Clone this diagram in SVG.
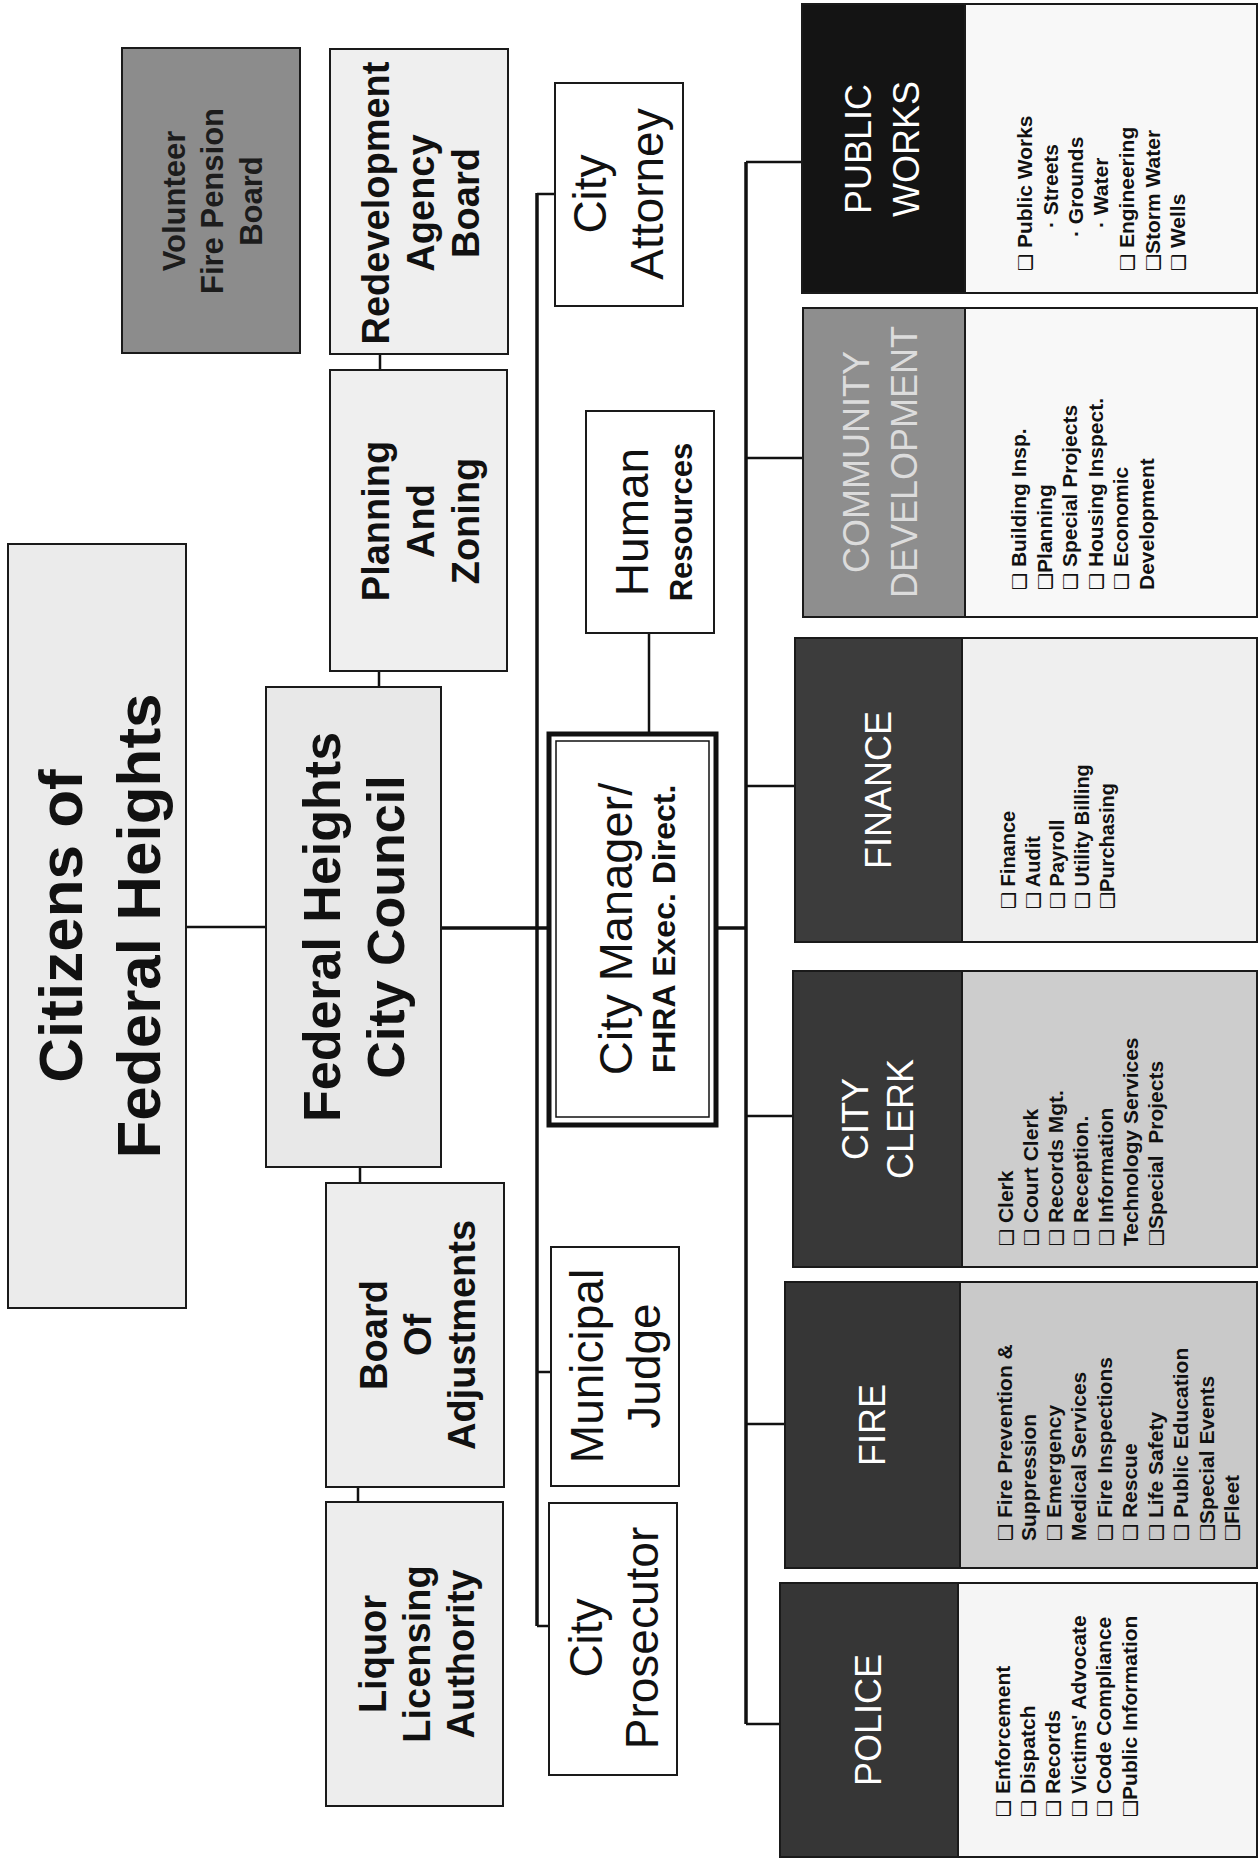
<svg xmlns="http://www.w3.org/2000/svg" width="1260" height="1860" viewBox="0 0 1260 1860">
<style>
text{font-family:"Liberation Sans",Arial,"DejaVu Sans",sans-serif;fill:#111}
.b{font-weight:bold}
.box{stroke:#1a1a1a;stroke-width:2}
.ln{stroke:#111;fill:none}
.bus{stroke-width:3.5}
.br{stroke-width:2.5}
.hd{fill:#fff;font-size:36px}
.li{font-size:21px;font-weight:bold}
.ck{font-family:"DejaVu Sans",sans-serif;font-size:19px}
</style>
<rect width="1260" height="1860" fill="#fff"/>

<g id="connectors">
<path class="ln br" d="M186 927H266"/>
<path class="ln br" d="M380 354V370M379 671V687M360 1167V1183M358 1487V1502"/>
<path class="ln bus" d="M441 928H547"/>
<path class="ln bus" d="M537 193V1626"/>
<path class="ln br" d="M537 194H555M537 1372H551M537 1626H549"/>
<path class="ln br" d="M649 633V732"/>
<path class="ln bus" d="M718 928H746"/>
<path class="ln bus" d="M746 162V1724"/>
<path class="ln br" d="M746 162H802M746 458H803M746 786H795M746 1116H793M746 1424H785M746 1724H780"/>
</g>

<g id="volunteer">
<rect class="box" x="122" y="48" width="178" height="305" fill="#8c8c8c"/>
<text class="b" font-size="31" text-anchor="middle" transform="translate(0,201) rotate(-90)" style="fill:#1c1c1c"><tspan x="0" y="185">Volunteer</tspan><tspan x="0" y="223">Fire Pension</tspan><tspan x="0" y="262">Board</tspan></text>
</g>

<g id="redevelopment">
<rect class="box" x="330" y="49" width="178" height="305" fill="#efefef"/>
<text class="b" font-size="38" text-anchor="middle" transform="translate(0,203) rotate(-90)"><tspan x="0" y="389">Redevelopment</tspan><tspan x="0" y="434">Agency</tspan><tspan x="0" y="479">Board</tspan></text>
</g>

<g id="planning">
<rect class="box" x="330" y="370" width="177" height="301" fill="#efefef"/>
<text class="b" font-size="38" text-anchor="middle" transform="translate(0,521) rotate(-90)"><tspan x="0" y="389">Planning</tspan><tspan x="0" y="434">And</tspan><tspan x="0" y="479">Zoning</tspan></text>
</g>

<g id="citizens">
<rect class="box" x="8" y="544" width="178" height="764" fill="#ebebeb"/>
<text class="b" font-size="62" text-anchor="middle" transform="translate(0,926) rotate(-90)"><tspan x="0" y="82">Citizens of</tspan><tspan x="0" y="160">Federal Heights</tspan></text>
</g>

<g id="council">
<rect class="box" x="266" y="687" width="175" height="480" fill="#e8e8e8"/>
<text class="b" font-size="52" text-anchor="middle" transform="translate(0,927) rotate(-90)"><tspan x="0" y="340">Federal Heights</tspan><tspan x="0" y="404">City Council</tspan></text>
</g>

<g id="board-adjustments">
<rect class="box" x="326" y="1183" width="178" height="304" fill="#ededed"/>
<text class="b" font-size="38" text-anchor="middle" transform="translate(0,1335) rotate(-90)"><tspan x="0" y="387">Board</tspan><tspan x="0" y="431">Of</tspan><tspan x="0" y="475">Adjustments</tspan></text>
</g>

<g id="liquor">
<rect class="box" x="326" y="1502" width="177" height="304" fill="#ededed"/>
<text class="b" font-size="38" text-anchor="middle" transform="translate(0,1654) rotate(-90)"><tspan x="0" y="386">Liquor</tspan><tspan x="0" y="430">Licensing</tspan><tspan x="0" y="474">Authority</tspan></text>
</g>

<g id="city-attorney">
<rect class="box" x="555" y="83" width="128" height="223" fill="#fff"/>
<text font-size="46" text-anchor="middle" transform="translate(0,194) rotate(-90)"><tspan x="0" y="606">City</tspan><tspan x="0" y="663">Attorney</tspan></text>
</g>

<g id="human-resources">
<rect class="box" x="586" y="411" width="128" height="222" fill="#fff"/>
<text text-anchor="middle" transform="translate(0,522) rotate(-90)"><tspan x="0" y="648" font-size="46">Human</tspan><tspan x="0" y="692" font-size="31" font-weight="bold">Resources</tspan></text>
</g>

<g id="city-manager">
<rect x="549" y="734" width="167" height="391" fill="#fff" stroke="#111" stroke-width="5"/>
<rect x="556" y="741" width="153" height="376" fill="none" stroke="#111" stroke-width="1.5"/>
<text text-anchor="middle" transform="translate(0,929) rotate(-90)"><tspan x="0" y="632" font-size="47">City Manager/</tspan><tspan x="0" y="675" font-size="32" font-weight="bold">FHRA Exec. Direct.</tspan></text>
</g>

<g id="municipal-judge">
<rect class="box" x="551" y="1247" width="128" height="239" fill="#fff"/>
<text font-size="46" text-anchor="middle" transform="translate(0,1366) rotate(-90)"><tspan x="0" y="603">Municipal</tspan><tspan x="0" y="660">Judge</tspan></text>
</g>

<g id="city-prosecutor">
<rect class="box" x="549" y="1503" width="128" height="272" fill="#fff"/>
<text font-size="46" text-anchor="middle" transform="translate(0,1638) rotate(-90)"><tspan x="0" y="602">City</tspan><tspan x="0" y="658">Prosecutor</tspan></text>
</g>

<g id="public-works">
<rect class="box" x="965" y="4" width="292" height="289" fill="#f8f8f8"/>
<rect class="box" x="802" y="4" width="163" height="289" fill="#141414"/>
<text class="hd" text-anchor="middle" transform="translate(0,149) rotate(-90)"><tspan x="0" y="871" style="fill:#fff">PUBLIC</tspan><tspan x="0" y="919" style="fill:#fff">WORKS</tspan></text>
<text class="li" transform="translate(0,271) rotate(-90)"><tspan x="0" y="1032"><tspan class="ck">❑</tspan> Public Works</tspan><tspan x="43" y="1058">· Streets</tspan><tspan x="34" y="1083">· Grounds</tspan><tspan x="43" y="1108">· Water</tspan><tspan x="0" y="1134"><tspan class="ck">❑</tspan> Engineering</tspan><tspan x="0" y="1160"><tspan class="ck">❑</tspan>Storm Water</tspan><tspan x="0" y="1185"><tspan class="ck">❑</tspan> Wells</tspan></text>
</g>

<g id="community-development">
<rect class="box" x="965" y="308" width="292" height="309" fill="#f8f8f8"/>
<rect class="box" x="803" y="308" width="162" height="309" fill="#8e8e8e"/>
<text class="hd" text-anchor="middle" transform="translate(0,462) rotate(-90)"><tspan x="0" y="869" style="fill:#dcdcdc">COMMUNITY</tspan><tspan x="0" y="917" style="fill:#dcdcdc">DEVELOPMENT</tspan></text>
<text class="li" transform="translate(0,590) rotate(-90)"><tspan x="0" y="1026"><tspan class="ck">❑</tspan> Building Insp.</tspan><tspan x="0" y="1052"><tspan class="ck">❑</tspan>Planning</tspan><tspan x="0" y="1077"><tspan class="ck">❑</tspan> Special Projects</tspan><tspan x="0" y="1103"><tspan class="ck">❑</tspan> Housing Inspect.</tspan><tspan x="0" y="1128"><tspan class="ck">❑</tspan> Economic</tspan><tspan x="0" y="1154">Development</tspan></text>
</g>

<g id="finance">
<rect class="box" x="962" y="638" width="295" height="304" fill="#efefef"/>
<rect class="box" x="795" y="638" width="167" height="304" fill="#3c3c3c"/>
<text class="hd" text-anchor="middle" transform="translate(0,790) rotate(-90)"><tspan x="0" y="891" style="fill:#fff">FINANCE</tspan></text>
<text class="li" transform="translate(0,909) rotate(-90)" style="font-size:20px"><tspan x="0" y="1015"><tspan class="ck">❑</tspan> Finance</tspan><tspan x="0" y="1040"><tspan class="ck">❑</tspan> Audit</tspan><tspan x="0" y="1064"><tspan class="ck">❑</tspan> Payroll</tspan><tspan x="0" y="1089"><tspan class="ck">❑</tspan> Utility Billing</tspan><tspan x="0" y="1114"><tspan class="ck">❑</tspan>Purchasing</tspan></text>
</g>

<g id="city-clerk">
<rect class="box" x="962" y="971" width="295" height="296" fill="#cdcdcd"/>
<rect class="box" x="793" y="971" width="169" height="296" fill="#383838"/>
<text class="hd" text-anchor="middle" transform="translate(0,1119) rotate(-90)"><tspan x="0" y="868" style="fill:#fff">CITY</tspan><tspan x="0" y="913" style="fill:#fff">CLERK</tspan></text>
<text class="li" transform="translate(0,1246) rotate(-90)"><tspan x="0" y="1013"><tspan class="ck">❑</tspan> Clerk</tspan><tspan x="0" y="1038"><tspan class="ck">❑</tspan> Court Clerk</tspan><tspan x="0" y="1063"><tspan class="ck">❑</tspan> Records Mgt.</tspan><tspan x="0" y="1088"><tspan class="ck">❑</tspan> Reception.</tspan><tspan x="0" y="1113"><tspan class="ck">❑</tspan> Information</tspan><tspan x="0" y="1138">Technology Services</tspan><tspan x="0" y="1163" style="white-space:pre"><tspan class="ck">❑</tspan>Special  Projects</tspan></text>
</g>

<g id="fire">
<rect class="box" x="960" y="1282" width="297" height="286" fill="#c9c9c9"/>
<rect class="box" x="785" y="1282" width="175" height="286" fill="#363636"/>
<text class="hd" text-anchor="middle" transform="translate(0,1425) rotate(-90)"><tspan x="0" y="885" style="fill:#fff">FIRE</tspan></text>
<text class="li" transform="translate(0,1541) rotate(-90)"><tspan x="0" y="1012"><tspan class="ck">❑</tspan> Fire Prevention &amp;</tspan><tspan x="0" y="1036">Suppression</tspan><tspan x="0" y="1061"><tspan class="ck">❑</tspan> Emergency</tspan><tspan x="0" y="1086">Medical Services</tspan><tspan x="0" y="1112"><tspan class="ck">❑</tspan> Fire Inspections</tspan><tspan x="0" y="1137"><tspan class="ck">❑</tspan> Rescue</tspan><tspan x="0" y="1163"><tspan class="ck">❑</tspan> Life Safety</tspan><tspan x="0" y="1188"><tspan class="ck">❑</tspan> Public Education</tspan><tspan x="0" y="1214"><tspan class="ck">❑</tspan>Special Events</tspan><tspan x="0" y="1239"><tspan class="ck">❑</tspan>Fleet</tspan></text>
</g>

<g id="police">
<rect class="box" x="958" y="1583" width="299" height="274" fill="#f5f5f5"/>
<rect class="box" x="780" y="1583" width="178" height="274" fill="#363636"/>
<text class="hd" text-anchor="middle" transform="translate(0,1720) rotate(-90)"><tspan x="0" y="881" style="fill:#fff">POLICE</tspan></text>
<text class="li" transform="translate(0,1817) rotate(-90)"><tspan x="0" y="1010"><tspan class="ck">❑</tspan> Enforcement</tspan><tspan x="0" y="1035"><tspan class="ck">❑</tspan> Dispatch</tspan><tspan x="0" y="1060"><tspan class="ck">❑</tspan> Records</tspan><tspan x="0" y="1086"><tspan class="ck">❑</tspan> Victims' Advocate</tspan><tspan x="0" y="1111"><tspan class="ck">❑</tspan> Code Compliance</tspan><tspan x="0" y="1137"><tspan class="ck">❑</tspan>Public Information</tspan></text>
</g>
</svg>
